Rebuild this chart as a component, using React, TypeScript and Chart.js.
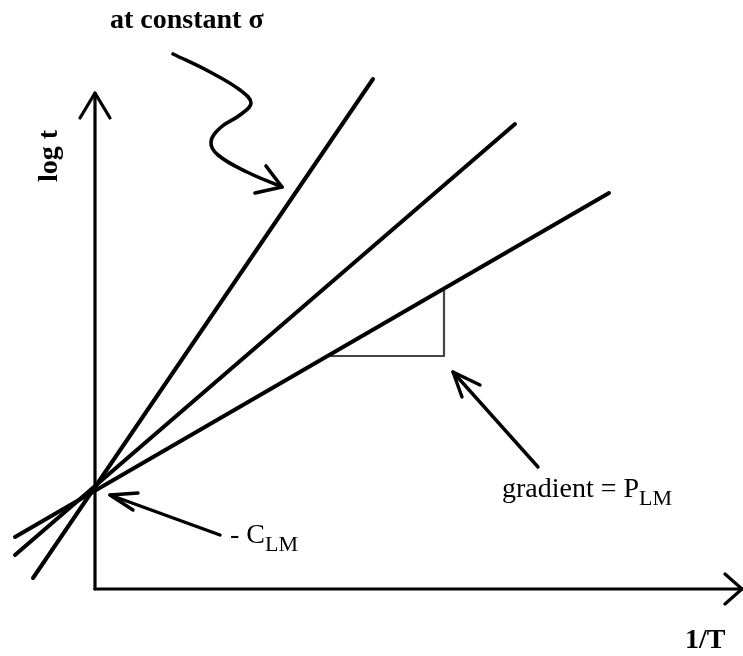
import React, { useEffect, useRef } from "react";
import { Chart, registerables } from "chart.js";

Chart.register(...registerables);

type Pt = { x: number; y: number };

// Axis ranges (1/T horizontally, log t vertically, arbitrary units)
const X_MIN = -9.5;
const X_MAX = 64.8;
const Y_MIN = -6.7;
const Y_MAX = 58.9;

// Three Larson-Miller iso-stress lines meeting at -C_LM on the log t axis
const lineSteep: Pt[] = [
  { x: -6.2, y: 1.1 },
  { x: 27.8, y: 51.0 },
];
const lineMiddle: Pt[] = [
  { x: -8.0, y: 3.4 },
  { x: 42.0, y: 46.5 },
];
const lineShallow: Pt[] = [
  { x: -8.0, y: 5.2 },
  { x: 51.4, y: 39.6 },
];
const gradientTriangle: Pt[] = [
  { x: 23.3, y: 23.3 },
  { x: 34.9, y: 23.3 },
  { x: 34.9, y: 29.9 },
];

// Axes with arrow heads
const yAxisLine: Pt[] = [
  { x: 0, y: 0 },
  { x: 0, y: 49.6 },
];
const yAxisHead: Pt[] = [
  { x: -1.5, y: 47.1 },
  { x: 0, y: 49.6 },
  { x: 1.5, y: 47.1 },
];
const xAxisLine: Pt[] = [
  { x: 0, y: 0 },
  { x: 64.7, y: 0 },
];
const xAxisHead: Pt[] = [
  { x: 63.0, y: 1.5 },
  { x: 64.7, y: 0 },
  { x: 63.0, y: -1.5 },
];

// Annotation arrows
const sigmaArrowPath: Pt[] = [
  { x: 7.8, y: 53.5 },
  { x: 11.5, y: 51.7 },
  { x: 14.5, y: 49.9 },
  { x: 15.6, y: 48.6 },
  { x: 14.5, y: 47.4 },
  { x: 12.5, y: 46.1 },
  { x: 11.6, y: 44.7 },
  { x: 12.3, y: 43.4 },
  { x: 15.2, y: 41.7 },
  { x: 18.7, y: 40.2 },
];
const sigmaArrowHead: Pt[] = [
  { x: 16.0, y: 39.6 },
  { x: 18.7, y: 40.2 },
  { x: 17.1, y: 42.3 },
];
const interceptArrow: Pt[] = [
  { x: 12.5, y: 5.4 },
  { x: 1.5, y: 9.4 },
];
const interceptArrowHead: Pt[] = [
  { x: 4.3, y: 9.6 },
  { x: 1.5, y: 9.4 },
  { x: 3.8, y: 7.9 },
];
const gradientArrow: Pt[] = [
  { x: 44.3, y: 12.2 },
  { x: 35.8, y: 21.7 },
];
const gradientArrowHead: Pt[] = [
  { x: 38.5, y: 20.4 },
  { x: 35.8, y: 21.7 },
  { x: 36.7, y: 19.2 },
];

// Text labels (main text, subscript, anchor in data units)
const labelTexts = ["at constant σ", "log t", "- C", "gradient = P", "1/T"];
const labelSubs = ["", "", "LM", "LM", ""];
const labelAnchors: Pt[] = [
  { x: 1.5, y: 56.1 },
  { x: -3.8, y: 43.3 },
  { x: 13.5, y: 4.6 },
  { x: 40.7, y: 9.2 },
  { x: 59.0, y: -5.9 },
];

const SERIF = '"Liberation Serif", "Times New Roman", serif';
const labelFonts = [
  `bold 28px ${SERIF}`,
  `bold 28px ${SERIF}`,
  `28px ${SERIF}`,
  `28px ${SERIF}`,
  `bold 28px ${SERIF}`,
];
const SUB_FONT = `22px ${SERIF}`;

const labelPlugin = {
  id: "diagramLabels",
  afterDatasetsDraw(chart: any) {
    const ctx: CanvasRenderingContext2D = chart.ctx;
    const xs = chart.scales.x;
    const ys = chart.scales.y;
    ctx.save();
    ctx.fillStyle = "#000";
    labelTexts.forEach((t, i) => {
      const px = xs.getPixelForValue(labelAnchors[i].x);
      const py = ys.getPixelForValue(labelAnchors[i].y);
      ctx.font = labelFonts[i];
      ctx.textBaseline = "alphabetic";
      if (i === 1) {
        ctx.save();
        ctx.translate(px, py);
        ctx.rotate(-Math.PI / 2);
        ctx.textAlign = "center";
        ctx.fillText(t, 0, 0);
        ctx.restore();
        return;
      }
      ctx.textAlign = "left";
      ctx.fillText(t, px, py);
      if (labelSubs[i]) {
        const w = ctx.measureText(t).width;
        ctx.font = SUB_FONT;
        ctx.fillText(labelSubs[i], px + w, py + 8);
      }
    });
    ctx.restore();
  },
};

function ds(data: Pt[], width: number, color = "#000", tension = 0) {
  return {
    data,
    showLine: true,
    borderColor: color,
    backgroundColor: color,
    borderWidth: width,
    pointRadius: 0,
    pointHoverRadius: 0,
    tension,
    fill: false,
    borderCapStyle: "round",
    borderJoinStyle: "round",
  } as any;
}

export default function App() {
  const ref = useRef<HTMLCanvasElement>(null);
  useEffect(() => {
    const canvas = ref.current!;
    const chart = new Chart(canvas, {
      type: "scatter",
      data: {
        datasets: [
          ds(yAxisLine, 3.2),
          ds(yAxisHead, 3.2),
          ds(xAxisLine, 3.2),
          ds(xAxisHead, 3.2),
          ds(lineSteep, 4),
          ds(lineMiddle, 4),
          ds(lineShallow, 4),
          ds(gradientTriangle, 2.2, "#444"),
          ds(sigmaArrowPath, 3.6, "#000", 0.4),
          ds(sigmaArrowHead, 3.6),
          ds(interceptArrow, 3.4),
          ds(interceptArrowHead, 3.4),
          ds(gradientArrow, 3.4),
          ds(gradientArrowHead, 3.4),
        ],
      },
      options: {
        animation: false,
        responsive: false,
        devicePixelRatio: 1,
        events: [],
        layout: { padding: 0 },
        plugins: {
          legend: { display: false },
          tooltip: { enabled: false },
        },
        scales: {
          x: { type: "linear", display: false, min: X_MIN, max: X_MAX },
          y: { type: "linear", display: false, min: Y_MIN, max: Y_MAX },
        },
      },
      plugins: [labelPlugin],
    });
    return () => chart.destroy();
  }, []);
  return (
    <div
      style={{
        position: "absolute",
        left: 0,
        top: 0,
        width: 743,
        height: 656,
        background: "#fff",
      }}
    >
      <canvas ref={ref} width={743} height={656} style={{ display: "block" }} />
    </div>
  );
}
